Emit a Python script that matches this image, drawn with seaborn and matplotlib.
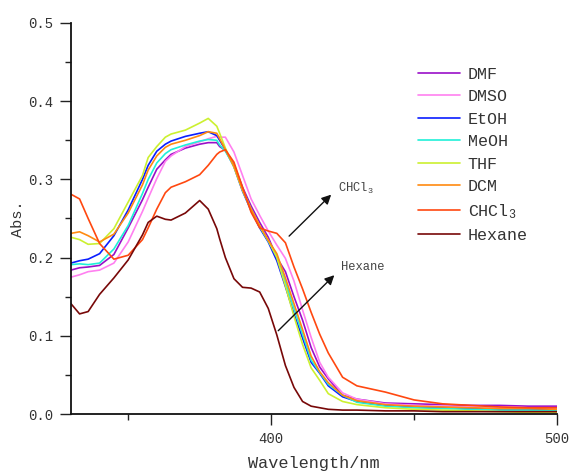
import numpy as np
import pandas as pd
import matplotlib
matplotlib.use("Agg")
import matplotlib.pyplot as plt
import seaborn as sns

# --------------------------------------------------------
# Data
# --------------------------------------------------------
wavelength = [330, 333, 336, 340, 345, 350, 355, 357, 360, 363, 365, 370, 375, 378, 381, 382,
              384, 387, 390, 393, 396, 399, 402, 405, 408, 411, 414, 417, 420, 425, 430,
              440, 450, 460, 470, 480, 490, 500]

dmf = [0.184, 0.187, 0.188, 0.190, 0.204, 0.238, 0.274, 0.290, 0.313, 0.325, 0.332, 0.340,
       0.345, 0.347, 0.347, 0.342, 0.337, 0.319, 0.290, 0.266, 0.245, 0.226, 0.200, 0.182,
       0.150, 0.120, 0.085, 0.060, 0.045, 0.024, 0.019, 0.014, 0.013, 0.012, 0.011, 0.011,
       0.010, 0.010]
dmso = [0.175, 0.178, 0.182, 0.184, 0.193, 0.220, 0.259, 0.276, 0.301, 0.323, 0.330, 0.342,
        0.348, 0.352, 0.355, 0.354, 0.354, 0.335, 0.305, 0.275, 0.254, 0.234, 0.216, 0.199,
        0.170, 0.133, 0.098, 0.066, 0.047, 0.027, 0.019, 0.013, 0.011, 0.010, 0.009, 0.009,
        0.008, 0.008]
etoh = [0.193, 0.196, 0.198, 0.205, 0.228, 0.261, 0.300, 0.318, 0.336, 0.345, 0.349, 0.355,
        0.359, 0.361, 0.356, 0.350, 0.338, 0.316, 0.285, 0.260, 0.238, 0.220, 0.196, 0.163,
        0.128, 0.097, 0.066, 0.052, 0.036, 0.022, 0.016, 0.011, 0.009, 0.008, 0.007, 0.006,
        0.006, 0.005]
meoh = [0.191, 0.192, 0.191, 0.193, 0.211, 0.241, 0.282, 0.300, 0.321, 0.333, 0.338, 0.344,
        0.349, 0.351, 0.350, 0.344, 0.336, 0.317, 0.287, 0.262, 0.240, 0.221, 0.202, 0.169,
        0.135, 0.102, 0.069, 0.053, 0.038, 0.024, 0.015, 0.010, 0.008, 0.007, 0.006, 0.005,
        0.005, 0.004]
thf = [0.226, 0.223, 0.217, 0.218, 0.237, 0.271, 0.305, 0.328, 0.342, 0.354, 0.358, 0.363,
       0.372, 0.378, 0.368, 0.359, 0.340, 0.316, 0.286, 0.261, 0.240, 0.222, 0.200, 0.164,
       0.125, 0.089, 0.059, 0.043, 0.026, 0.016, 0.012, 0.008, 0.006, 0.005, 0.004, 0.003,
       0.002, 0.002]
dcm = [0.231, 0.233, 0.228, 0.220, 0.230, 0.257, 0.293, 0.312, 0.330, 0.341, 0.345, 0.350,
       0.356, 0.361, 0.359, 0.352, 0.338, 0.317, 0.287, 0.262, 0.241, 0.222, 0.205, 0.174,
       0.141, 0.108, 0.074, 0.054, 0.040, 0.024, 0.017, 0.012, 0.010, 0.009, 0.008, 0.007,
       0.007, 0.006]
chcl3 = [0.281, 0.275, 0.250, 0.218, 0.198, 0.203, 0.223, 0.238, 0.262, 0.283, 0.290, 0.297,
         0.306, 0.318, 0.332, 0.335, 0.338, 0.322, 0.290, 0.258, 0.238, 0.234, 0.231, 0.219,
         0.188, 0.160, 0.130, 0.102, 0.078, 0.047, 0.036, 0.028, 0.018, 0.013, 0.011, 0.009,
         0.008, 0.008]
hexane = [0.141, 0.128, 0.131, 0.153, 0.174, 0.197, 0.229, 0.245, 0.253, 0.249, 0.248, 0.257,
          0.273, 0.262, 0.237, 0.224, 0.200, 0.173, 0.162, 0.161, 0.156, 0.135, 0.101, 0.062,
          0.034, 0.016, 0.010, 0.008, 0.006, 0.005, 0.005, 0.004, 0.004, 0.003, 0.003, 0.003,
          0.003, 0.003]

solvents = ["DMF", "DMSO", "EtOH", "MeOH", "THF", "DCM", "CHCl3", "Hexane"]
series = [dmf, dmso, etoh, meoh, thf, dcm, chcl3, hexane]
colors = ["#9A0FC8", "#FF80F0", "#0A1EFF", "#20F0D8", "#CCF030", "#FF8A10", "#FF4810", "#780808"]
legend_labels = ["DMF", "DMSO", "EtOH", "MeOH", "THF", "DCM", r"CHCl$_3$", "Hexane"]

# --------------------------------------------------------
# Plot
# --------------------------------------------------------
def main():
    sns.set_style("ticks")
    plt.rcParams["font.family"] = ["Liberation Mono", "DejaVu Sans Mono"]
    plt.rcParams["mathtext.fontset"] = "custom"
    plt.rcParams["mathtext.rm"] = "Liberation Mono"
    plt.rcParams["mathtext.it"] = "Liberation Mono"

    long = pd.DataFrame({
        "Wavelength": np.tile(wavelength, len(solvents)),
        "Abs": np.concatenate(series),
        "Solvent": np.repeat(solvents, len(wavelength)),
    })

    fig = plt.figure(figsize=(5.72, 4.73), dpi=100)
    ax = fig.add_axes([71 / 572, 59 / 473, 486 / 572, 391 / 473])

    sns.lineplot(data=long, x="Wavelength", y="Abs", hue="Solvent",
                 hue_order=solvents, palette=dict(zip(solvents, colors)),
                 estimator=None, sort=False, linewidth=1.2, ax=ax)

    ax.set_xlim(330, 500)
    ax.set_ylim(0, 0.5)
    ax.set_xticks([400, 500])
    ax.set_xticks([350, 450], minor=True)
    ax.set_yticks(np.arange(0, 0.51, 0.1))
    ax.set_yticklabels([f"{v:.1f}" for v in np.arange(0, 0.51, 0.1)])
    ax.set_yticks(np.arange(0.05, 0.5, 0.1), minor=True)
    ax.tick_params(which="major", direction="out", length=8, width=1.0,
                   labelsize=10, colors="#222222", labelcolor="#333333")
    ax.tick_params(which="minor", direction="out", length=4, width=1.0, colors="#222222")
    ax.tick_params(axis="y", pad=5)
    ax.tick_params(axis="x", pad=5)
    for side in ["top", "right"]:
        ax.spines[side].set_visible(False)
    for side in ["left", "bottom"]:
        ax.spines[side].set_linewidth(1.3)
        ax.spines[side].set_color("#111111")

    ax.set_xlabel("Wavelength/nm", fontsize=12.2, color="#333333", labelpad=7)
    ax.set_ylabel("Abs.", fontsize=11, color="#333333", labelpad=2)

    # annotations with arrows
    ax.annotate("", xy=(421.7, 0.283), xytext=(405.6, 0.225),
                arrowprops=dict(arrowstyle="-|>", color="#111111", lw=1.0,
                                mutation_scale=14))
    ax.text(423.3, 0.289, r"CHCl$_3$", fontsize=8.7, color="#444444", va="center", ha="left")
    ax.annotate("", xy=(422.8, 0.180), xytext=(401.8, 0.104),
                arrowprops=dict(arrowstyle="-|>", color="#111111", lw=1.0,
                                mutation_scale=14))
    ax.text(424.5, 0.188, "Hexane", fontsize=8.7, color="#444444", va="center", ha="left")

    handles, _ = ax.get_legend_handles_labels()
    leg = ax.legend(handles, legend_labels, loc="upper left", bbox_to_anchor=(0.70, 0.905),
                    frameon=False, fontsize=12, handlelength=2.5, handletextpad=0.5,
                    labelspacing=0.45, borderaxespad=0)
    for t in leg.get_texts():
        t.set_color("#333333")

    fig.savefig("out.png", dpi=100)
    plt.close(fig)


if __name__ == "__main__":
    main()
